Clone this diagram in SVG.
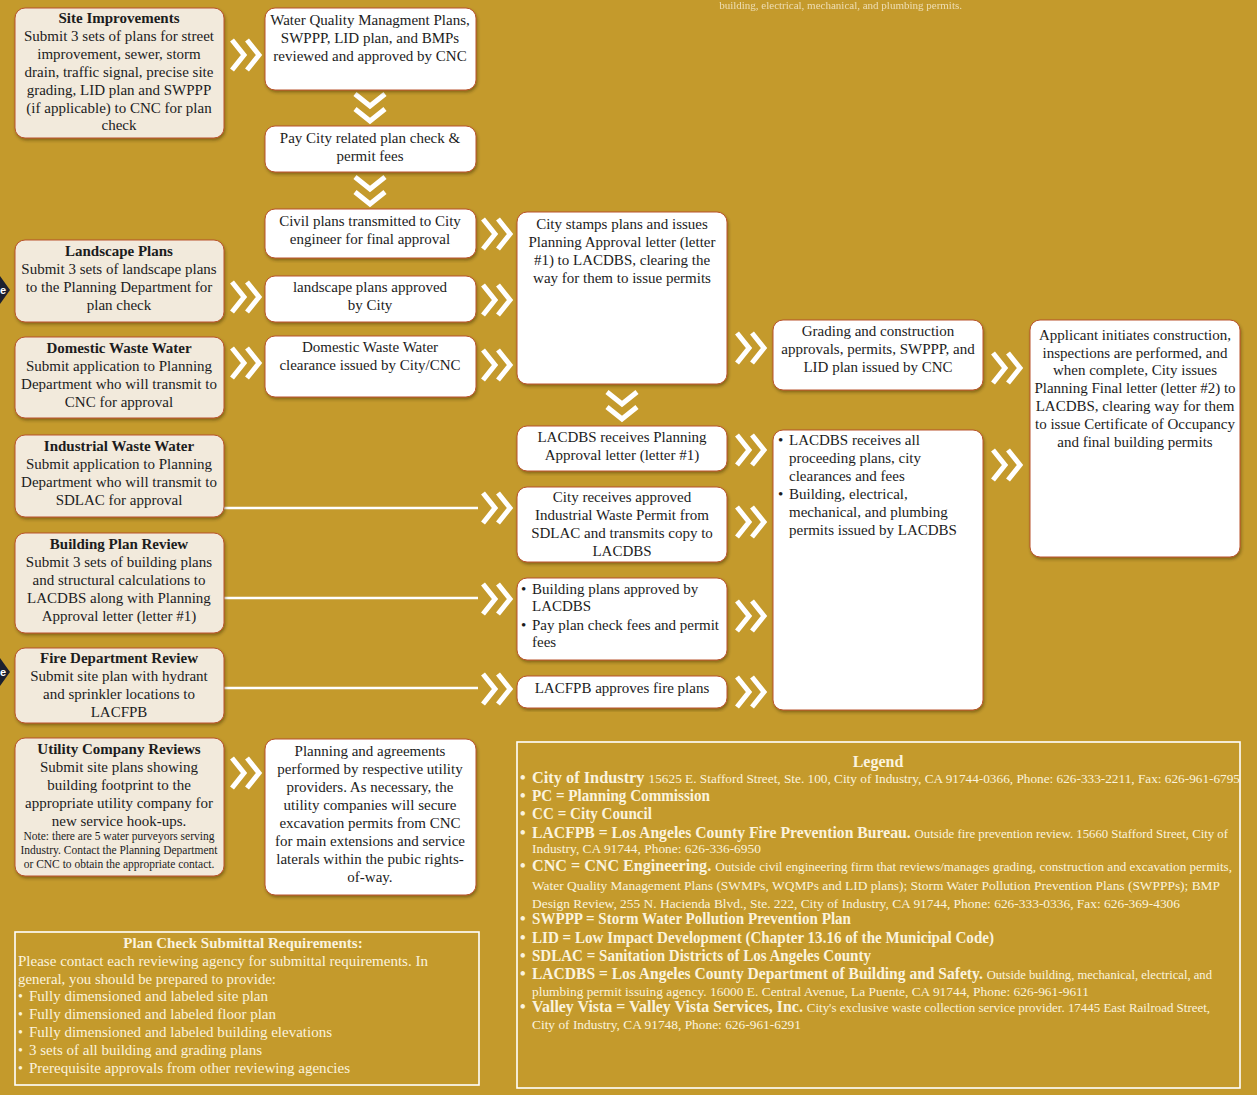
<svg xmlns="http://www.w3.org/2000/svg" xmlns:xlink="http://www.w3.org/1999/xlink" width="1257" height="1095" viewBox="0 0 1257 1095">
<defs>
<style>
.bg{fill:#C49A2C}
.lb{fill:#F2EADC;stroke:#B9532C;stroke-width:1}
.wb{fill:#FFFFFF;stroke:#B9532C;stroke-width:1}
.t{font-family:"Liberation Serif","Times New Roman",serif;font-size:15px;fill:#1c1c1c}
.c{text-anchor:middle}
.b{font-weight:bold}
.n{font-size:11.5px}
.chev{fill:none;stroke:#FFFFFF;stroke-width:5;stroke-linejoin:miter;stroke-linecap:butt}
.ln{stroke:#FFFFFF;stroke-width:2.5}
.frame{fill:none;stroke:#FFFFFF;stroke-width:1.6}
.w{font-family:"Liberation Serif","Times New Roman",serif;fill:#FBF3DE}
.lg{font-size:16px}
.lr{font-weight:normal;font-size:13px}
.pc{font-size:14px}
</style>
<filter id="sh" x="-5%" y="-5%" width="112%" height="115%">
<feDropShadow dx="1" dy="2" stdDeviation="1.5" flood-color="#3a2a00" flood-opacity="0.45"/>
</filter>
<path id="chev" class="chev" d="M0,-15 L12,0 L0,15 M15,-15 L27,0 L15,15"/>
</defs>

<rect class="bg" x="0" y="0" width="1257" height="1095"/>

<text class="w" x="962" y="9" text-anchor="end" font-size="11" opacity="0.75">building, electrical, mechanical, and plumbing permits.</text>

<g id="edge-markers">
<polygon points="0,276 10,290 0,304" fill="#1c2030"/>
<text x="0" y="294" font-family="Liberation Sans, sans-serif" font-size="11" font-weight="bold" fill="#FFFFFF">e</text>
<polygon points="0,658 10,672 0,686" fill="#1c2030"/>
<text x="0" y="676" font-family="Liberation Sans, sans-serif" font-size="11" font-weight="bold" fill="#FFFFFF">e</text>
</g>

<g id="connectors">
<line class="ln" x1="224" y1="508" x2="478" y2="508"/>
<line class="ln" x1="224" y1="598" x2="478" y2="598"/>
<line class="ln" x1="224" y1="688" x2="478" y2="688"/>
<use xlink:href="#chev" transform="translate(232,55)"/>
<use xlink:href="#chev" transform="translate(232,297)"/>
<use xlink:href="#chev" transform="translate(232,363)"/>
<use xlink:href="#chev" transform="translate(232,773)"/>
<use xlink:href="#chev" transform="translate(483,234)"/>
<use xlink:href="#chev" transform="translate(483,300)"/>
<use xlink:href="#chev" transform="translate(483,365)"/>
<use xlink:href="#chev" transform="translate(483,508)"/>
<use xlink:href="#chev" transform="translate(483,599)"/>
<use xlink:href="#chev" transform="translate(483,689)"/>
<use xlink:href="#chev" transform="translate(737,348)"/>
<use xlink:href="#chev" transform="translate(737,450)"/>
<use xlink:href="#chev" transform="translate(737,522)"/>
<use xlink:href="#chev" transform="translate(737,616)"/>
<use xlink:href="#chev" transform="translate(737,692)"/>
<use xlink:href="#chev" transform="translate(993,368)"/>
<use xlink:href="#chev" transform="translate(993,465)"/>
<use xlink:href="#chev" transform="translate(370,94) rotate(90)"/>
<use xlink:href="#chev" transform="translate(370,177) rotate(90)"/>
<use xlink:href="#chev" transform="translate(622,392) rotate(90)"/>
</g>

<g id="site-improvements">
<rect class="lb" filter="url(#sh)" x="15" y="8" width="209" height="130" rx="10"/>
<text class="t c b" x="119" y="23">Site Improvements</text>
<text class="t c" x="119" y="41">Submit 3 sets of plans for street</text>
<text class="t c" x="119" y="59">improvement, sewer, storm</text>
<text class="t c" x="119" y="77">drain, traffic signal, precise site</text>
<text class="t c" x="119" y="95">grading, LID plan and SWPPP</text>
<text class="t c" x="119" y="113">(if applicable) to CNC for plan</text>
<text class="t c" x="119" y="130">check</text>
</g>

<g id="landscape-plans">
<rect class="lb" filter="url(#sh)" x="15" y="240" width="209" height="82" rx="10"/>
<text class="t c b" x="119" y="256">Landscape Plans</text>
<text class="t c" x="119" y="274">Submit 3 sets of landscape plans</text>
<text class="t c" x="119" y="292">to the Planning Department for</text>
<text class="t c" x="119" y="310">plan check</text>
</g>

<g id="domestic-waste-water">
<rect class="lb" filter="url(#sh)" x="15" y="337" width="209" height="81" rx="10"/>
<text class="t c b" x="119" y="353">Domestic Waste Water</text>
<text class="t c" x="119" y="371">Submit application to Planning</text>
<text class="t c" x="119" y="389">Department who will transmit to</text>
<text class="t c" x="119" y="407">CNC for approval</text>
</g>

<g id="industrial-waste-water">
<rect class="lb" filter="url(#sh)" x="15" y="435" width="209" height="82" rx="10"/>
<text class="t c b" x="119" y="451">Industrial Waste Water</text>
<text class="t c" x="119" y="469">Submit application to Planning</text>
<text class="t c" x="119" y="487">Department who will transmit to</text>
<text class="t c" x="119" y="505">SDLAC for approval</text>
</g>

<g id="building-plan-review">
<rect class="lb" filter="url(#sh)" x="15" y="533" width="209" height="100" rx="10"/>
<text class="t c b" x="119" y="549">Building Plan Review</text>
<text class="t c" x="119" y="567">Submit 3 sets of building plans</text>
<text class="t c" x="119" y="585">and structural calculations to</text>
<text class="t c" x="119" y="603">LACDBS along with Planning</text>
<text class="t c" x="119" y="621">Approval letter (letter #1)</text>
</g>

<g id="fire-department-review">
<rect class="lb" filter="url(#sh)" x="15" y="648" width="209" height="75" rx="10"/>
<text class="t c b" x="119" y="663">Fire Department Review</text>
<text class="t c" x="119" y="681">Submit site plan with hydrant</text>
<text class="t c" x="119" y="699">and sprinkler locations to</text>
<text class="t c" x="119" y="717">LACFPB</text>
</g>

<g id="utility-company-reviews">
<rect class="lb" filter="url(#sh)" x="15" y="738" width="209" height="138" rx="10"/>
<text class="t c b" x="119" y="754">Utility Company Reviews</text>
<text class="t c" x="119" y="772">Submit site plans showing</text>
<text class="t c" x="119" y="790">building footprint to the</text>
<text class="t c" x="119" y="808">appropriate utility company for</text>
<text class="t c" x="119" y="826">new service hook-ups.</text>
<text class="t c n" x="119" y="840">Note: there are 5 water purveyors serving</text>
<text class="t c n" x="119" y="854">Industry. Contact the Planning Department</text>
<text class="t c n" x="119" y="868">or CNC to obtain the appropriate contact.</text>
</g>

<g id="water-quality">
<rect class="wb" filter="url(#sh)" x="265" y="8" width="211" height="82" rx="10"/>
<text class="t c" x="370" y="25">Water Quality Managment Plans,</text>
<text class="t c" x="370" y="43">SWPPP, LID plan, and BMPs</text>
<text class="t c" x="370" y="61">reviewed and approved by CNC</text>
</g>

<g id="pay-fees">
<rect class="wb" filter="url(#sh)" x="265" y="126" width="211" height="46" rx="10"/>
<text class="t c" x="370" y="143">Pay City related plan check &amp;</text>
<text class="t c" x="370" y="161">permit fees</text>
</g>

<g id="civil-plans">
<rect class="wb" filter="url(#sh)" x="265" y="209" width="211" height="49" rx="10"/>
<text class="t c" x="370" y="226">Civil plans transmitted to City</text>
<text class="t c" x="370" y="244">engineer for final approval</text>
</g>

<g id="landscape-approved">
<rect class="wb" filter="url(#sh)" x="265" y="276" width="211" height="46" rx="10"/>
<text class="t c" x="370" y="292">landscape plans approved</text>
<text class="t c" x="370" y="310">by City</text>
</g>

<g id="domestic-clearance">
<rect class="wb" filter="url(#sh)" x="265" y="336" width="211" height="61" rx="10"/>
<text class="t c" x="370" y="352">Domestic Waste Water</text>
<text class="t c" x="370" y="370">clearance issued by City/CNC</text>
</g>

<g id="planning-agreements">
<rect class="wb" filter="url(#sh)" x="265" y="739" width="211" height="156" rx="10"/>
<text class="t c" x="370" y="756">Planning and agreements</text>
<text class="t c" x="370" y="774">performed by respective utility</text>
<text class="t c" x="370" y="792">providers. As necessary, the</text>
<text class="t c" x="370" y="810">utility companies will secure</text>
<text class="t c" x="370" y="828">excavation permits from CNC</text>
<text class="t c" x="370" y="846">for main extensions and service</text>
<text class="t c" x="370" y="864">laterals within the pubic rights-</text>
<text class="t c" x="370" y="882">of-way.</text>
</g>

<g id="city-stamps">
<rect class="wb" filter="url(#sh)" x="517" y="212" width="210" height="172" rx="10"/>
<text class="t c" x="622" y="229">City stamps plans and issues</text>
<text class="t c" x="622" y="247">Planning Approval letter (letter</text>
<text class="t c" x="622" y="265">#1) to LACDBS, clearing the</text>
<text class="t c" x="622" y="283">way for them to issue permits</text>
</g>

<g id="lacdbs-receives-letter">
<rect class="wb" filter="url(#sh)" x="517" y="426" width="210" height="45" rx="10"/>
<text class="t c" x="622" y="442">LACDBS receives Planning</text>
<text class="t c" x="622" y="460">Approval letter (letter #1)</text>
</g>

<g id="city-receives-permit">
<rect class="wb" filter="url(#sh)" x="517" y="487" width="210" height="75" rx="10"/>
<text class="t c" x="622" y="502">City receives approved</text>
<text class="t c" x="622" y="520">Industrial Waste Permit from</text>
<text class="t c" x="622" y="538">SDLAC and transmits copy to</text>
<text class="t c" x="622" y="556">LACDBS</text>
</g>

<g id="building-approved">
<rect class="wb" filter="url(#sh)" x="517" y="578" width="210" height="82" rx="10"/>
<text class="t" x="521" y="594">•</text>
<text class="t" x="532" y="594">Building plans approved by</text>
<text class="t" x="532" y="611">LACDBS</text>
<text class="t" x="521" y="630">•</text>
<text class="t" x="532" y="630">Pay plan check fees and permit</text>
<text class="t" x="532" y="647">fees</text>
</g>

<g id="lacfpb-approves">
<rect class="wb" filter="url(#sh)" x="517" y="676" width="210" height="32" rx="10"/>
<text class="t c" x="622" y="693">LACFPB approves fire plans</text>
</g>

<g id="grading-approvals">
<rect class="wb" filter="url(#sh)" x="773" y="320" width="210" height="70" rx="10"/>
<text class="t c" x="878" y="336">Grading and construction</text>
<text class="t c" x="878" y="354">approvals, permits, SWPPP, and</text>
<text class="t c" x="878" y="372">LID plan issued by CNC</text>
</g>

<g id="lacdbs-permits">
<rect class="wb" filter="url(#sh)" x="773" y="430" width="210" height="280" rx="10"/>
<text class="t" x="778" y="445">•</text>
<text class="t" x="789" y="445">LACDBS receives all</text>
<text class="t" x="789" y="463">proceeding plans, city</text>
<text class="t" x="789" y="481">clearances and fees</text>
<text class="t" x="778" y="499">•</text>
<text class="t" x="789" y="499">Building, electrical,</text>
<text class="t" x="789" y="517">mechanical, and plumbing</text>
<text class="t" x="789" y="535">permits issued by LACDBS</text>
</g>

<g id="applicant-construction">
<rect class="wb" filter="url(#sh)" x="1030" y="320" width="210" height="237" rx="10"/>
<text class="t c" x="1135" y="340">Applicant initiates construction,</text>
<text class="t c" x="1135" y="358">inspections are performed, and</text>
<text class="t c" x="1135" y="375">when complete, City issues</text>
<text class="t c" x="1135" y="393">Planning Final letter (letter #2) to</text>
<text class="t c" x="1135" y="411">LACDBS, clearing way for them</text>
<text class="t c" x="1135" y="429">to issue Certificate of Occupancy</text>
<text class="t c" x="1135" y="447">and final building permits</text>
</g>

<g id="plan-check-requirements">
<rect class="frame" x="15" y="932" width="464" height="153"/>
<text class="w b" font-size="15" x="243" y="948" text-anchor="middle">Plan Check Submittal Requirements:</text>
<text class="w pc" x="18" y="966" textLength="410" lengthAdjust="spacingAndGlyphs">Please contact each reviewing agency for submittal requirements. In</text>
<text class="w pc" x="18" y="984" textLength="258" lengthAdjust="spacingAndGlyphs">general, you should be prepared to provide:</text>
<text class="w pc" x="18" y="1001">•</text>
<text class="w pc" x="29" y="1001" textLength="239" lengthAdjust="spacingAndGlyphs">Fully dimensioned and labeled site plan</text>
<text class="w pc" x="18" y="1019">•</text>
<text class="w pc" x="29" y="1019" textLength="247" lengthAdjust="spacingAndGlyphs">Fully dimensioned and labeled floor plan</text>
<text class="w pc" x="18" y="1037">•</text>
<text class="w pc" x="29" y="1037" textLength="303" lengthAdjust="spacingAndGlyphs">Fully dimensioned and labeled building elevations</text>
<text class="w pc" x="18" y="1055">•</text>
<text class="w pc" x="29" y="1055" textLength="233" lengthAdjust="spacingAndGlyphs">3 sets of all building and grading plans</text>
<text class="w pc" x="18" y="1073">•</text>
<text class="w pc" x="29" y="1073" textLength="321" lengthAdjust="spacingAndGlyphs">Prerequisite approvals from other reviewing agencies</text>
</g>

<g id="legend">
<rect class="frame" x="517" y="742" width="723" height="346"/>
<text class="w b lg" x="878" y="767" text-anchor="middle">Legend</text>
<g class="w b lg">
<text x="520" y="783">•</text>
<text x="532" y="783" textLength="708" lengthAdjust="spacingAndGlyphs">City of Industry <tspan class="lr">15625 E. Stafford Street, Ste. 100, City of Industry, CA 91744-0366, Phone: 626-333-2211, Fax: 626-961-6795</tspan></text>
<text x="520" y="801">•</text>
<text x="532" y="801" textLength="178" lengthAdjust="spacingAndGlyphs">PC = Planning Commission</text>
<text x="520" y="819">•</text>
<text x="532" y="819" textLength="120" lengthAdjust="spacingAndGlyphs">CC = City Council</text>
<text x="520" y="838">•</text>
<text x="532" y="838" textLength="696" lengthAdjust="spacingAndGlyphs">LACFPB = Los Angeles County Fire Prevention Bureau. <tspan class="lr">Outside fire prevention review. 15660 Stafford Street, City of</tspan></text>
<text class="lr" x="532" y="853" textLength="229" lengthAdjust="spacingAndGlyphs">Industry, CA 91744, Phone: 626-336-6950</text>
<text x="520" y="871">•</text>
<text x="532" y="871" textLength="700" lengthAdjust="spacingAndGlyphs">CNC = CNC Engineering. <tspan class="lr">Outside civil engineering firm that reviews/manages grading, construction and excavation permits,</tspan></text>
<text class="lr" x="532" y="890" textLength="688" lengthAdjust="spacingAndGlyphs">Water Quality Management Plans (SWMPs, WQMPs and LID plans); Storm Water Pollution Prevention Plans (SWPPPs); BMP</text>
<text class="lr" x="532" y="908" textLength="648" lengthAdjust="spacingAndGlyphs">Design Review, 255 N. Hacienda Blvd., Ste. 222, City of Industry, CA 91744, Phone: 626-333-0336, Fax: 626-369-4306</text>
<text x="520" y="924">•</text>
<text x="532" y="924" textLength="319" lengthAdjust="spacingAndGlyphs">SWPPP = Storm Water Pollution Prevention Plan</text>
<text x="520" y="943">•</text>
<text x="532" y="943" textLength="462" lengthAdjust="spacingAndGlyphs">LID = Low Impact Development (Chapter 13.16 of the Municipal Code)</text>
<text x="520" y="961">•</text>
<text x="532" y="961" textLength="339" lengthAdjust="spacingAndGlyphs">SDLAC = Sanitation Districts of Los Angeles County</text>
<text x="520" y="979">•</text>
<text x="532" y="979" textLength="680" lengthAdjust="spacingAndGlyphs">LACDBS = Los Angeles County Department of Building and Safety. <tspan class="lr">Outside building, mechanical, electrical, and</tspan></text>
<text class="lr" x="532" y="996" textLength="557" lengthAdjust="spacingAndGlyphs">plumbing permit issuing agency. 16000 E. Central Avenue, La Puente, CA 91744, Phone: 626-961-9611</text>
<text x="520" y="1012">•</text>
<text x="532" y="1012" textLength="678" lengthAdjust="spacingAndGlyphs">Valley Vista = Valley Vista Services, Inc. <tspan class="lr">City's exclusive waste collection service provider. 17445 East Railroad Street,</tspan></text>
<text class="lr" x="532" y="1029" textLength="269" lengthAdjust="spacingAndGlyphs">City of Industry, CA 91748, Phone: 626-961-6291</text>
</g>
</g>
</svg>
